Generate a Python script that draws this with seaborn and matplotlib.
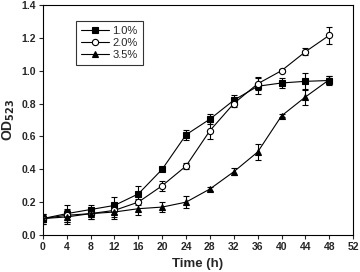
import seaborn as sns
import matplotlib.pyplot as plt
import pandas as pd
import numpy as np

# Growth data
time_h = [0, 4, 8, 12, 16, 20, 24, 28, 32, 36, 40, 44, 48]
od_1_0 = [0.10, 0.13, 0.155, 0.18, 0.25, 0.40, 0.61, 0.705, 0.82, 0.905, 0.925, 0.935, 0.94]
od_2_0 = [0.10, 0.12, 0.13, 0.15, 0.20, 0.30, 0.42, 0.635, 0.80, 0.92, 1.00, 1.115, 1.215]
od_3_5 = [0.10, 0.11, 0.13, 0.14, 0.16, 0.17, 0.20, 0.28, 0.385, 0.505, 0.725, 0.84, 0.945]
err_1_0 = [0.02, 0.05, 0.03, 0.05, 0.05, 0.01, 0.03, 0.03, 0.03, 0.05, 0.03, 0.05, 0.03]
err_2_0 = [0.03, 0.04, 0.03, 0.04, 0.02, 0.03, 0.02, 0.05, 0.02, 0.04, 0.01, 0.02, 0.05]
err_3_5 = [0.03, 0.04, 0.03, 0.04, 0.04, 0.03, 0.035, 0.015, 0.02, 0.05, 0.01, 0.05, 0.02]
labels = ['1.0%', '2.0%', '3.5%']

sns.set_style('ticks')
plt.rcParams['font.family'] = ['Liberation Sans', 'DejaVu Sans']

fig, ax = plt.subplots(figsize=(3.6, 2.72), dpi=100)
fig.subplots_adjust(left=0.119, right=0.981, bottom=0.136, top=0.982)

series = [(od_1_0, err_1_0, 's', 'black'),
          (od_2_0, err_2_0, 'o', 'white'),
          (od_3_5, err_3_5, '^', 'black')]

for (vals, errs, mk, face), lab in zip(series, labels):
    ax.errorbar(time_h, vals, yerr=errs, fmt='none', ecolor='black',
                elinewidth=0.8, capsize=2, capthick=0.8, zorder=2)
    df = pd.DataFrame({'time': time_h, 'od': vals})
    sns.lineplot(data=df, x='time', y='od', ax=ax, color='black', linewidth=0.8,
                 marker=mk, markersize=4.5, markerfacecolor=face,
                 markeredgecolor='black', markeredgewidth=0.8, label=lab, zorder=3)

ax.set_xlim(0, 52)
ax.set_ylim(0, 1.4)
ax.set_xticks(np.arange(0, 53, 4))
ax.set_yticks(np.arange(0, 1.41, 0.2))
ax.set_yticklabels([f'{v:.1f}' for v in np.arange(0, 1.41, 0.2)])
ax.tick_params(direction='out', length=3, width=0.8, labelsize=7.5, pad=2)
for t in ax.get_xticklabels() + ax.get_yticklabels():
    t.set_fontweight('bold')
for s in ax.spines.values():
    s.set_linewidth(0.8)
    s.set_color('black')

ax.set_xlabel('Time (h)', fontsize=9.5, fontweight='bold', labelpad=4)
ax.set_ylabel(r'OD$_{\mathbf{523}}$', fontsize=10, fontweight='bold', labelpad=3)

leg = ax.legend(loc='upper left', bbox_to_anchor=(0.09, 0.955), fontsize=8,
                frameon=True, fancybox=False, edgecolor='black', handlelength=2.5,
                borderpad=0.45, labelspacing=0.2, handletextpad=0.3)
leg.get_frame().set_linewidth(0.8)

plt.savefig('out.png', dpi=100)
